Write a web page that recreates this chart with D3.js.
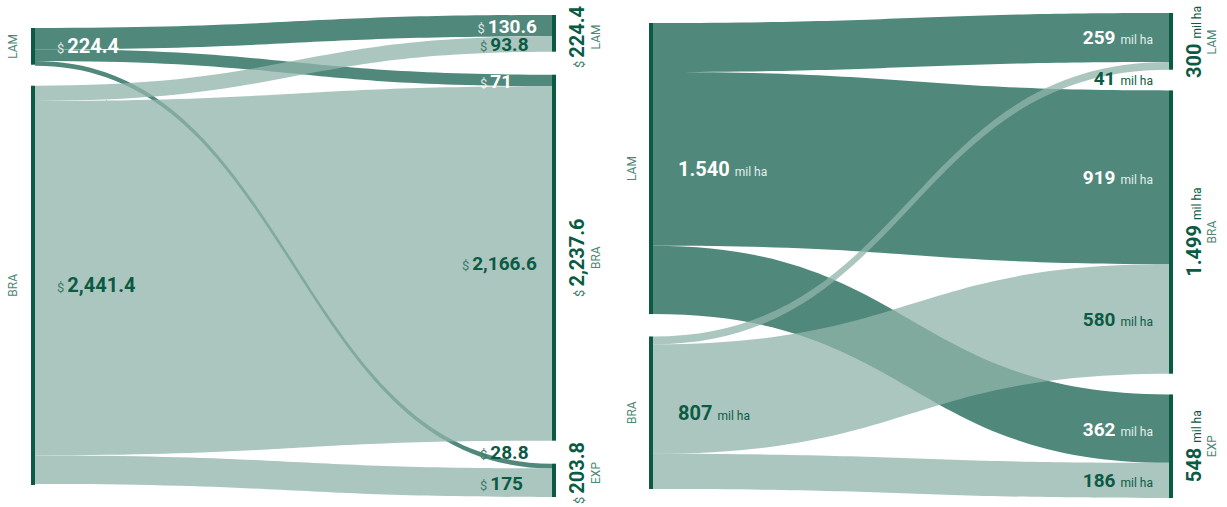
<!DOCTYPE html>
<html>
<head>
<meta charset="utf-8">
<script src="https://cdn.jsdelivr.net/npm/d3@7"></script>
<style>
  body { margin: 0; background: #fff; }
  svg { display: block; font-family: Roboto, "Liberation Sans", sans-serif; }
</style>
</head>
<body>
<svg id="chart" width="1227" height="507"></svg>
<script>
// Origin regions (left column) and destinations (right column)
const regions = ["LAM", "BRA"];
const destinations = ["LAM", "BRA", "EXP"];

// Value of production, US$ (left panel)
const valueOrigins = [224.4, 2441.4];
const valueDestinations = [224.4, 2237.6, 203.8];
const valueFromLAM = [130.6, 71, 28.8];    // LAM -> LAM, BRA, EXP
const valueFromBRA = [93.8, 2166.6, 175];  // BRA -> LAM, BRA, EXP

// Land use, thousand hectares (right panel)
const areaOrigins = [1540, 807];
const areaDestinations = [300, 1499, 548];
const areaFromLAM = [259, 919, 362];
const areaFromBRA = [41, 580, 186];

const WIDTH = 1227, HEIGHT = 507;

const COLORS = {
  node: "#0a5a44",
  flow: ["#50897b", "#91b4ab"],   // LAM flows, BRA flows
  flowOpacity: [1, 0.76],
  text: "#0b5a44",
  textSoft: "#3d7c6b",
  name: "#4d8777"
};

const svg = d3.select("#chart");

// Two-column sankey: stacked nodes on each side, links stacked by order
function layout(o) {
  const total = d3.sum(o.targets);
  const size = d3.scaleLinear()
    .domain([0, total])
    .range([0, o.tgtBottom - o.tgtTop - o.tgtPad * (o.targets.length - 1)]);
  const srcPad = (o.srcBottom - o.srcTop - d3.sum(o.sources, size)) / (o.sources.length - 1);

  let y = o.srcTop;
  const srcNodes = o.sources.map((v, i) => {
    const n = { i, value: v, y0: y, y1: y + size(v) };
    y = n.y1 + srcPad;
    return n;
  });
  y = o.tgtTop;
  const tgtNodes = o.targets.map((v, j) => {
    const n = { j, value: v, y0: y, y1: y + size(v) };
    y = n.y1 + o.tgtPad;
    return n;
  });

  const links = [];
  o.flows.forEach((row, i) => {
    let sy = srcNodes[i].y0;
    row.forEach((v, j) => {
      const w = size(v);
      links.push({ i, j, value: v, w, sy0: sy, sy1: sy + w });
      sy += w;
    });
  });
  tgtNodes.forEach(t => {
    let ty = t.y0;
    links.filter(l => l.j === t.j).sort((a, b) => a.i - b.i).forEach((l, r) => {
      l.ty0 = ty; l.ty1 = ty + l.w; l.rank = r; ty = l.ty1;
    });
  });
  return { srcNodes, tgtNodes, links };
}

function bandPath(l, x0, x1) {
  const xm = (x0 + x1) / 2;
  const p = d3.path();
  p.moveTo(x0, l.sy0);
  p.bezierCurveTo(xm, l.sy0, xm, l.ty0, x1, l.ty0);
  p.lineTo(x1, l.ty1);
  p.bezierCurveTo(xm, l.ty1, xm, l.sy1, x0, l.sy1);
  p.closePath();
  return p.toString();
}

// Writes "<prefix> number <suffix>" into a text element
function writeValue(text, v, o, onDark, numSize) {
  const numColor = onDark ? "#ffffff" : COLORS.text;
  const unitColor = onDark ? "rgba(255,255,255,0.82)" : COLORS.textSoft;
  if (o.prefix) {
    text.append("tspan").attr("font-size", 13).attr("fill", unitColor).text(o.prefix);
  }
  text.append("tspan")
    .attr("font-size", numSize).attr("font-weight", 700).attr("fill", numColor)
    .attr("dx", o.prefix ? 3 : 0)
    .text(o.fmt(v));
  if (o.suffix) {
    text.append("tspan").attr("font-size", 12).attr("dx", 5)
      .attr("fill", onDark ? "rgba(255,255,255,0.88)" : COLORS.text)
      .text(o.suffix);
  }
}

function drawPanel(o) {
  const L = layout(o);
  const g = svg.append("g");

  // flows: LAM flows first, BRA flows over them
  [0, 1].forEach(i => {
    g.append("g").selectAll("path")
      .data(L.links.filter(l => l.i === i))
      .join("path")
      .attr("d", l => bandPath(l, o.x0, o.x1))
      .attr("fill", COLORS.flow[i])
      .attr("fill-opacity", COLORS.flowOpacity[i]);
  });

  // node bars
  g.append("g").selectAll("rect")
    .data(L.srcNodes).join("rect")
    .attr("x", o.x0 - 4).attr("width", 4)
    .attr("y", d => d.y0).attr("height", d => d.y1 - d.y0)
    .attr("fill", COLORS.node);
  g.append("g").selectAll("rect")
    .data(L.tgtNodes).join("rect")
    .attr("x", o.x1).attr("width", 4)
    .attr("y", d => d.y0).attr("height", d => d.y1 - d.y0)
    .attr("fill", COLORS.node);

  // origin names and totals
  L.srcNodes.forEach(n => {
    const cy = (n.y0 + n.y1) / 2;
    g.append("text")
      .attr("transform", `translate(${o.srcNameX},${cy}) rotate(-90)`)
      .attr("text-anchor", "middle").attr("font-size", 12).attr("fill", COLORS.name)
      .text(regions[n.i]);
    const t = g.append("text").attr("x", o.srcValueX).attr("y", cy + 7);
    writeValue(t, n.value, o, n.i === 0, 20);
  });

  // destination totals and names, kept inside the drawing area
  L.tgtNodes.forEach(n => {
    const t = g.append("text").attr("text-anchor", "middle");
    writeValue(t, n.value, o, false, 20);
    const half = t.node().getBBox().width / 2;
    const cy = Math.max(half + 6, Math.min(HEIGHT - half - 3, (n.y0 + n.y1) / 2));
    t.attr("transform", `translate(${o.tgtValueX},${cy}) rotate(-90)`);
    g.append("text")
      .attr("transform", `translate(${o.tgtNameX},${cy}) rotate(-90)`)
      .attr("text-anchor", "middle").attr("font-size", 12).attr("fill", COLORS.name)
      .text(destinations[n.j]);
  });

  // flow values next to the destination end
  L.links.forEach(l => {
    let cy, onDark;
    if (l.w < 10) {
      cy = l.rank === 0 ? l.ty0 - 12 : l.ty1 + 8;
      onDark = false;
    } else {
      cy = (l.ty0 + l.ty1) / 2;
      onDark = l.i === 0;
    }
    const t = g.append("text").attr("y", cy + 7);
    writeValue(t, l.value, o, onDark, 19);
    if (o.linkAnchor === "end") {
      t.attr("text-anchor", "end").attr("x", o.linkX);
    } else {
      const w = t.node().getBBox().width;
      t.attr("x", Math.min(o.linkX, o.linkMaxEnd - w));
    }
  });
}

const fmtUSD = d3.format(",");
const fmtHa = d3.formatLocale({ decimal: ",", thousands: ".", grouping: [3], currency: ["", ""] }).format(",");

drawPanel({
  sources: valueOrigins, targets: valueDestinations, flows: [valueFromLAM, valueFromBRA],
  x0: 35, x1: 552, srcTop: 28, srcBottom: 485, tgtTop: 15, tgtBottom: 497, tgtPad: 23,
  srcNameX: 17, srcValueX: 57, tgtValueX: 584, tgtNameX: 600,
  linkX: 480, linkMaxEnd: 537, linkAnchor: "start",
  fmt: fmtUSD, prefix: "$"
});

drawPanel({
  sources: areaOrigins, targets: areaDestinations, flows: [areaFromLAM, areaFromBRA],
  x0: 653, x1: 1169, srcTop: 23, srcBottom: 489, tgtTop: 13, tgtBottom: 498, tgtPad: 20.7,
  srcNameX: 636, srcValueX: 678, tgtValueX: 1201, tgtNameX: 1216,
  linkX: 1153, linkAnchor: "end",
  fmt: fmtHa, suffix: "mil ha"
});
</script>
</body>
</html>
